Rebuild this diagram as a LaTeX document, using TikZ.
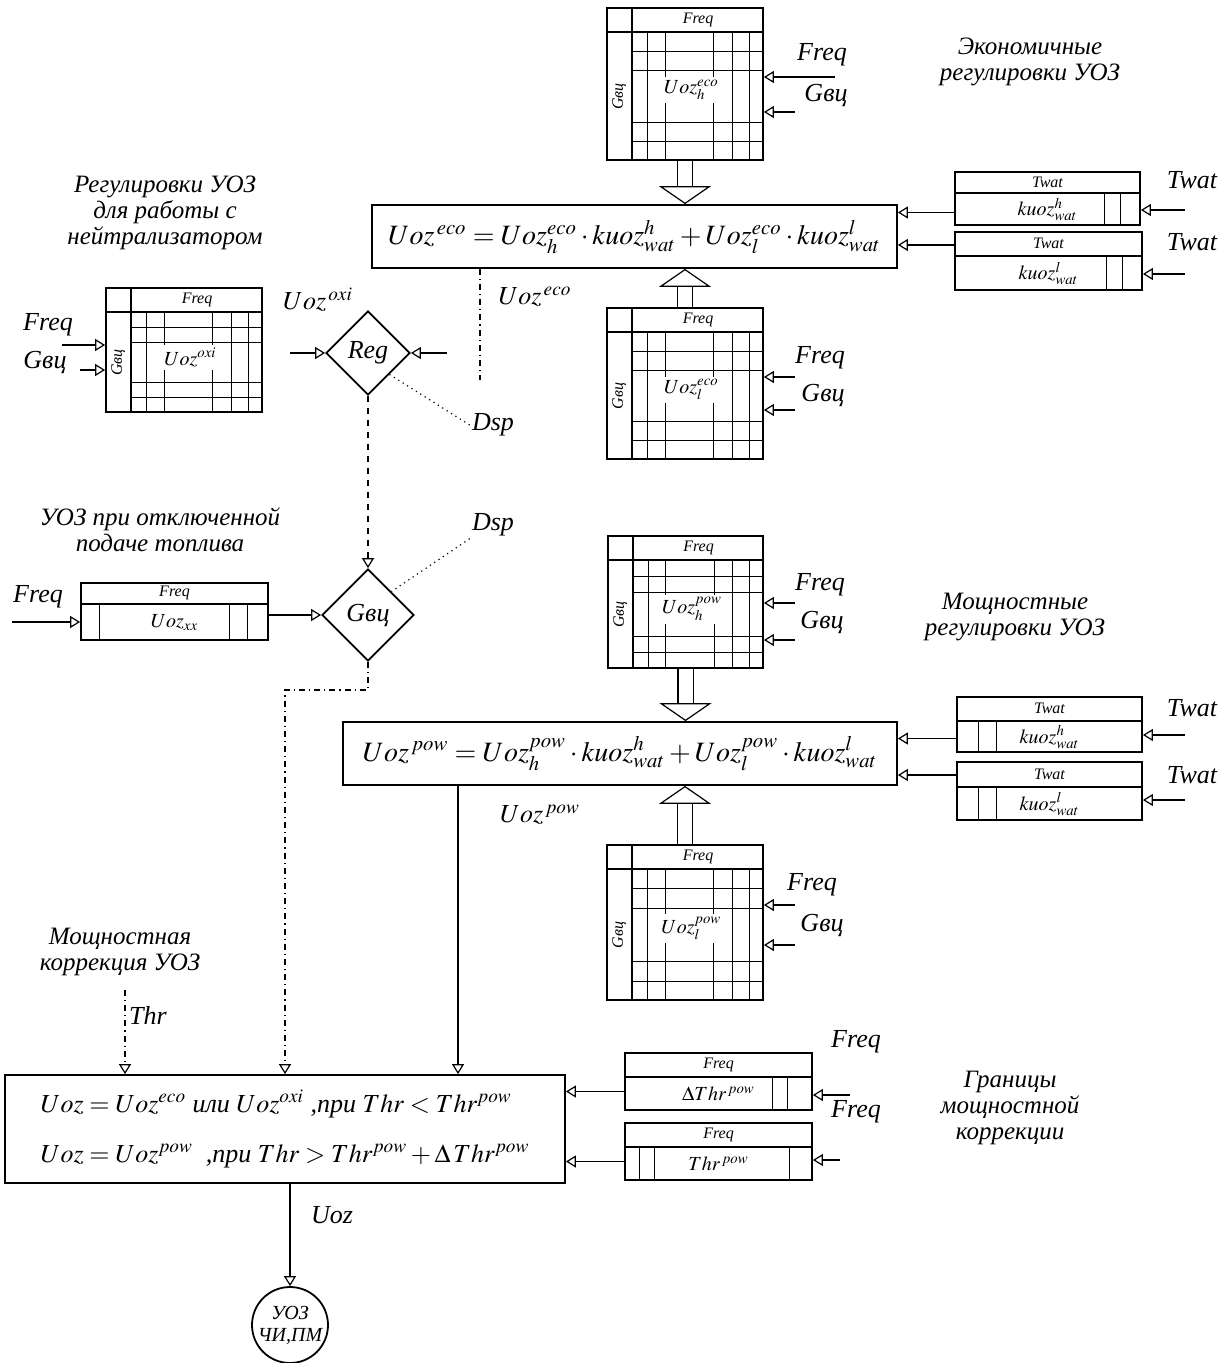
\documentclass[tikz,border=0pt]{standalone}
\usepackage{mathptmx}
\usepackage{fontspec}
\setmainfont{Liberation Serif}
\usetikzlibrary{arrows.meta,positioning,fit,shapes.geometric,calc}

% lookup map: header row Freq, side column Gvc, grid body
\newcommand{\maptable}[2]{%
  \draw[tline] ($(#1.north west)+(0,25)$) -- ($(#1.north east)+(0,25)$);
  \draw[tline] ($(#1.north west)+(26,0)$) -- ($(#1.south west)+(26,0)$);
  \coordinate (#1-a) at ($(#1.north west)+(26,25)$);
  \foreach \f in {0.12,0.25,0.62,0.76,0.89}{
    \coordinate (#1-g) at ($(#1-a)!\f!(#1.south east)$);
    \draw[gline] (#1-g |- #1-a) -- (#1-g |- #1.south);}
  \foreach \f in {0.15,0.3,0.7,0.85}{
    \coordinate (#1-g) at ($(#1-a)!\f!(#1.south east)$);
    \draw[gline] (#1-a |- #1-g) -- (#1.east |- #1-g);}
  \node[cell, fill=white] at ($(#1-a)!0.45!(#1.south east)$) {#2};
  \node[hdr] at ($(#1.north east)!0.5!(#1-a)$) {Freq};
  \node[hdr, rotate=90] at ($(#1.south west)!0.5!(#1-a)$) {Gвц};
}
% one-row table: name, header px, header text, body text, body lines
\newcommand{\striptable}[5]{%
  \draw[tline] ($(#1.north west)+(0,#2)$) -- ($(#1.north east)+(0,#2)$);
  \foreach \xo in {#5}
    \draw[gline] ($(#1.south west)+(\xo,0)$) -- ($(#1.north west)+(\xo,#2)$);
  \node[hdr] at ($(#1.north)+(0,#2/2)$) {#3};
  \node[cell] at ($(#1.center)+(0,#2/2)$) {#4};
}

\begin{document}
\begin{tikzpicture}[x=0.5pt, y=-0.5pt,
  tbl/.style={draw, line width=0.9pt, inner sep=0pt},
  tline/.style={line width=0.9pt},
  gline/.style={line width=0.5pt},
  hdr/.style={font=\fontsize{8}{9}\selectfont\itshape, inner sep=1pt},
  cell/.style={font=\fontsize{10}{11}\selectfont\itshape, inner sep=1.5pt},
  eqbox/.style={draw, line width=0.9pt, inner sep=0pt, font=\fontsize{14}{16}\selectfont\itshape},
  decide/.style={diamond, draw, line width=0.9pt, aspect=1, inner sep=0pt, minimum size=#1, font=\fontsize{13}{15}\selectfont\itshape},
  lbl/.style={font=\fontsize{13}{15}\selectfont\itshape, inner sep=1pt},
  ttl/.style={align=center, font=\fontsize{12.5}{13}\selectfont\itshape},
  flow/.style={-{Triangle[open,length=5pt,width=6pt]}, line width=0.6pt},
  bigarr/.style={double, double distance=7pt, line width=0.6pt, -{Triangle[open,length=9pt,width=26pt]}}
]
\useasboundingbox (0,0) rectangle (1223,1363);

% economy maps
\node[tbl, fit={(607,8) (763,160)}] (ecoh) {};
\maptable{ecoh}{$Uoz_h^{eco}$}
\node[tbl, fit={(607,308) (763,459)}] (ecol) {};
\maptable{ecol}{$Uoz_l^{eco}$}
\node[eqbox, minimum width=262.5pt, minimum height=31.5pt] (eco) at (634.5,236.5)
  {$Uoz^{\,eco}=Uoz_h^{eco}\cdot kuoz_{wat}^{h}+Uoz_l^{eco}\cdot kuoz_{wat}^{l}$};
\draw[bigarr] (ecoh.south) -- (ecoh.south |- eco.north);
\draw[bigarr] (ecol.north) -- (ecol.north |- eco.south);
\node[ttl] (ecottl) at (1030,62) {Экономичные\\регулировки УОЗ};

\node[lbl] (ecohf) at (822,55) {Freq};
\node[lbl] (ecohg) at (826,95) {Gвц};
\coordinate (ecoh-f) at (835,77);
\coordinate (ecoh-g) at (795,112);
\draw[flow] (ecoh-f) -- (ecoh-f -| ecoh.east);
\draw[flow] (ecoh-g) -- (ecoh-g -| ecoh.east);
\node[lbl] (ecolf) at (820,358) {Freq};
\node[lbl] (ecolg) at (823,395) {Gвц};
\coordinate (ecol-f) at (795,377);
\coordinate (ecol-g) at (795,410);
\draw[flow] (ecol-f) -- (ecol-f -| ecol.east);
\draw[flow] (ecol-g) -- (ecol-g -| ecol.east);

% coolant corrections (economy)
\node[tbl, fit={(955,172) (1140,225)}] (twath) {};
\striptable{twath}{22}{Twat}{$kuoz_{wat}^{h}$}{150,166}
\node[tbl, fit={(955,232) (1142,290)}] (twatl) {};
\striptable{twatl}{25}{Twat}{$kuoz_{wat}^{l}$}{152,168}
\node[lbl] (twathl) at (1192,180) {Twat};
\node[lbl] (twatll) at (1192,242) {Twat};
\coordinate (twath-in) at (1185,210);
\coordinate (twatl-in) at (1185,274);
\draw[flow] (twath-in) -- (twath-in -| twath.east);
\draw[flow] (twatl-in) -- (twatl-in -| twatl.east);
\draw[flow] ([yshift=-7pt]twath.west) -- ([yshift=-7pt]twath.west -| eco.east);
\draw[flow] ([yshift=8pt]twatl.west) -- ([yshift=8pt]twatl.west -| eco.east);

% catalyst map and selector
\node[ttl] (oxittl) at (165,213) {Регулировки УОЗ\\для работы с\\нейтрализатором};
\node[tbl, fit={(106,288) (262,412)}] (oxi) {};
\maptable{oxi}{$Uoz^{oxi}$}
\node[lbl] (oxif) at (48,325) {Freq};
\node[lbl] (oxig) at (45,362) {Gвц};
\coordinate (oxi-f) at (62,345);
\coordinate (oxi-g) at (80,370);
\draw[flow] (oxi-f) -- (oxi-f -| oxi.west);
\draw[flow] (oxi-g) -- (oxi-g -| oxi.west);

\node[decide=42pt] (reg) at (368,353) {Reg};
\node[lbl] (oxiout) at (318,300) {$Uoz^{\,oxi}$};
\coordinate (reg-l) at (290,353);
\coordinate (reg-r) at (447,353);
\draw[flow] (reg-l) -- (reg.west);
\draw[flow] (reg-r) -- (reg.east);
\coordinate (ecoout) at (480,380);
\draw[line width=0.6pt, dash dot] (ecoout |- eco.south) -- (ecoout);
\node[lbl] (ecolbl) at (535,297) {$Uoz^{\,eco}$};
\node[lbl] (dsp1) at (493,425) {Dsp};
\draw[line width=0.6pt, dotted] (dsp1.west) -- (reg.south east);

% fuel cut-off
\node[ttl] (xxttl) at (160,530) {УОЗ при отключенной\\подаче топлива};
\node[decide=46pt] (gvc) at (368,615) {Gвц};
\draw[flow, dashed] (reg.south) -- (gvc.north);
\node[lbl] (dsp2) at (493,525) {Dsp};
\draw[line width=0.6pt, dotted] (dsp2.south west) -- (gvc.north east);
\node[tbl, fit={(81,583) (268,640)}] (xx) {};
\striptable{xx}{22}{Freq}{$Uoz_{xx}$}{19,149,167}
\node[lbl] (xxf) at (38,597) {Freq};
\coordinate (xx-f) at (12,622);
\draw[flow] (xx-f) -- (xx-f -| xx.west);
\draw[flow] (xx.east |- gvc.west) -- (gvc.west);

% power maps
\node[tbl, fit={(608,536) (763,668)}] (powh) {};
\maptable{powh}{$Uoz_h^{pow}$}
\node[tbl, fit={(607,845) (763,1000)}] (powl) {};
\maptable{powl}{$Uoz_l^{pow}$}
\node[eqbox, minimum width=277pt, minimum height=31.5pt] (pow) at (620,753.5)
  {$Uoz^{\,pow}=Uoz_h^{pow}\cdot kuoz_{wat}^{h}+Uoz_l^{pow}\cdot kuoz_{wat}^{l}$};
\draw[bigarr] (powh.south) -- (powh.south |- pow.north);
\draw[bigarr] (powl.north) -- (powl.north |- pow.south);
\node[ttl] (powttl) at (1015,617) {Мощностные\\регулировки УОЗ};

\node[lbl] (powhf) at (820,585) {Freq};
\node[lbl] (powhg) at (822,622) {Gвц};
\coordinate (powh-f) at (795,603);
\coordinate (powh-g) at (795,640);
\draw[flow] (powh-f) -- (powh-f -| powh.east);
\draw[flow] (powh-g) -- (powh-g -| powh.east);
\node[lbl] (powlf) at (812,885) {Freq};
\node[lbl] (powlg) at (822,925) {Gвц};
\coordinate (powl-f) at (795,905);
\coordinate (powl-g) at (795,945);
\draw[flow] (powl-f) -- (powl-f -| powl.east);
\draw[flow] (powl-g) -- (powl-g -| powl.east);

% coolant corrections (power)
\node[tbl, fit={(957,697) (1142,752)}] (twph) {};
\striptable{twph}{25}{Twat}{$kuoz_{wat}^{h}$}{22,40}
\node[tbl, fit={(957,762) (1142,820)}] (twpl) {};
\striptable{twpl}{26}{Twat}{$kuoz_{wat}^{l}$}{22,40}
\node[lbl] (twphl) at (1192,708) {Twat};
\node[lbl] (twpll) at (1192,775) {Twat};
\coordinate (twph-in) at (1185,735);
\coordinate (twpl-in) at (1185,800);
\draw[flow] (twph-in) -- (twph-in -| twph.east);
\draw[flow] (twpl-in) -- (twpl-in -| twpl.east);
\draw[flow] ([yshift=-7pt]twph.west) -- ([yshift=-7pt]twph.west -| pow.east);
\draw[flow] ([yshift=8pt]twpl.west) -- ([yshift=8pt]twpl.west -| pow.east);
\node[lbl] (powlbl) at (540,815) {$Uoz^{\,pow}$};

% power correction
\node[eqbox, minimum width=280pt, minimum height=54pt, align=left,
      font=\fontsize{13}{25}\selectfont\itshape] (final) at (285,1129)
  {$Uoz=Uoz^{eco}$ или $Uoz^{oxi}$ ,при $Thr<Thr^{pow}$\\
   $Uoz=Uoz^{pow}$ \ ,при $Thr>Thr^{pow}+\Delta\,Thr^{pow}$};
\node[ttl] (corttl) at (120,952) {Мощностная\\коррекция УОЗ};
\coordinate (thr-in) at (125,990);
\node[lbl] (thrlbl) at (148,1015) {Thr};
\draw[flow, dash dot] (thr-in) -- (thr-in |- final.north);
\coordinate (bend) at (285,690);
\draw[flow, dash dot] (gvc.south) |- (bend) -- (bend |- final.north);
\coordinate (powout) at (458,900);
\draw[flow] (powout |- pow.south) -- (powout |- final.north);

\node[tbl, fit={(625,1053) (812,1110)}] (dthr) {};
\striptable{dthr}{25}{Freq}{$\Delta Thr^{\,pow}$}{148,163}
\node[tbl, fit={(625,1123) (812,1180)}] (thrp) {};
\striptable{thrp}{25}{Freq}{$Thr^{\,pow}$}{15,30,165}
\node[lbl] (dthrf) at (856,1042) {Freq};
\node[lbl] (thrpf) at (856,1112) {Freq};
\coordinate (dthr-in) at (850,1095);
\coordinate (thrp-in) at (840,1160);
\draw[flow] (dthr-in) -- (dthr-in -| dthr.east);
\draw[flow] (thrp-in) -- (thrp-in -| thrp.east);
\draw[flow] ([yshift=-5pt]dthr.west) -- ([yshift=-5pt]dthr.west -| final.east);
\draw[flow] ([yshift=-5pt]thrp.west) -- ([yshift=-5pt]thrp.west -| final.east);
\node[ttl] (bndttl) at (1010,1108) {Границы\\мощностной\\коррекции};

% output
\node[circle, draw, line width=0.9pt, minimum size=38pt, inner sep=0pt, align=center,
      font=\fontsize{10}{11}\selectfont\itshape] (uoz) at (290,1325) {УОЗ\\ЧИ,ПМ};
\draw[flow] (uoz.north |- final.south) -- (uoz.north);
\node[lbl] (uozlbl) at (332,1215) {Uoz};
\end{tikzpicture}
\end{document}
